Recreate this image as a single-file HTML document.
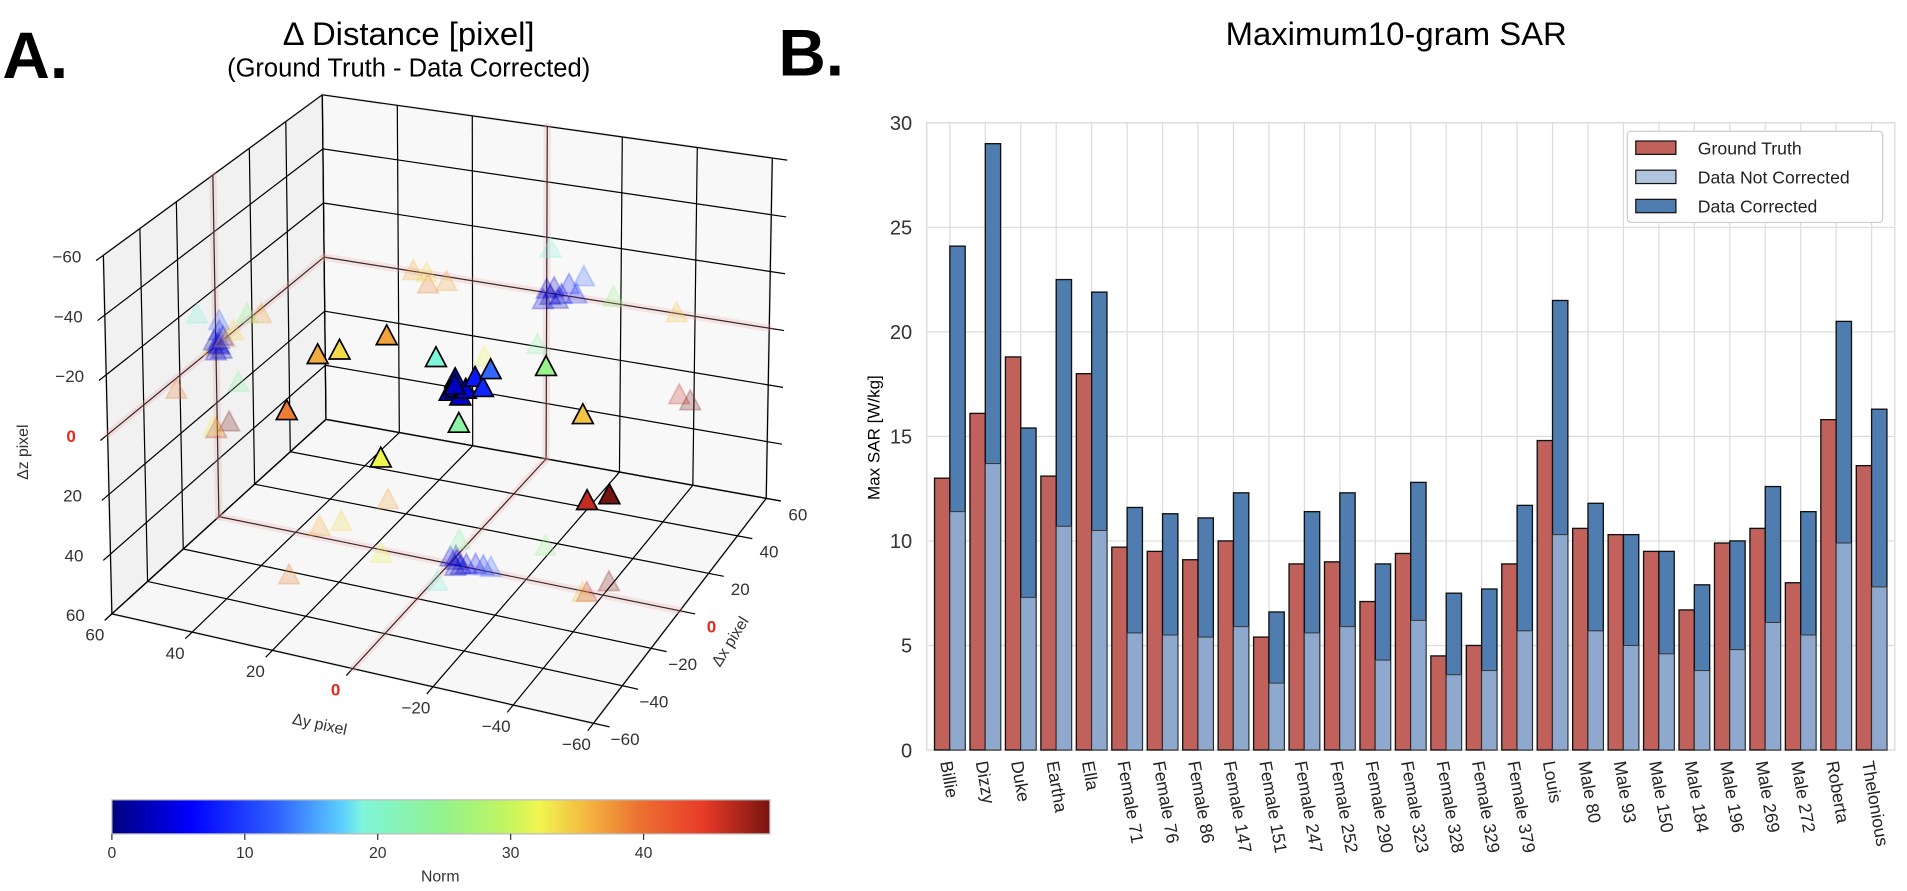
<!DOCTYPE html>
<html><head><meta charset="utf-8">
<style>
html,body{margin:0;padding:0;background:#fff;}
svg{display:block;font-family:"Liberation Sans",sans-serif;}
</style></head>
<body>
<svg id="root" width="1907" height="891" viewBox="0 0 1568 733" preserveAspectRatio="none" xmlns="http://www.w3.org/2000/svg">
<g id="panelA">
<text x="2" y="64" font-size="54" font-weight="bold">A.</text>
<text x="336" y="37" font-size="27" text-anchor="middle">Δ Distance [pixel]</text>
<text x="336" y="63" font-size="21" text-anchor="middle">(Ground Truth - Data Corrected)</text>
<g id="box"></g>
<g id="shadows"></g>
<g id="points"></g>
<g id="labels3d"></g>
<defs>
<linearGradient id="jet" x1="0" x2="1" y1="0" y2="0"></linearGradient>
</defs>
<rect x="92" y="658" width="541" height="28" fill="url(#jet)" stroke="#bbb" stroke-width="1"/>
<g id="cbticks"></g>
<text x="362" y="725" font-size="13" fill="#333" text-anchor="middle">Norm</text>
</g>
<g id="panelB">
<text x="640" y="62" font-size="54" font-weight="bold">B.</text>
<text x="1148" y="37" font-size="27" text-anchor="middle">Maximum10-gram SAR</text>
<text transform="translate(723,360) rotate(-90)" font-size="14" text-anchor="middle">Max SAR [W/kg]</text>
<g id="grid"></g>
<g id="bars"></g>
<g id="xlabels"></g>
<g id="legend">
<rect x="1338" y="108" width="210" height="75" rx="3" fill="#fff" stroke="#ccc"/>
<rect x="1345" y="116" width="33" height="11" fill="#c0615c" stroke="#111"/>
<text x="1396" y="127" font-size="14.5" fill="#222">Ground Truth</text>
<rect x="1345" y="140" width="33" height="11" fill="#b0c4de" stroke="#111"/>
<text x="1396" y="151" font-size="14.5" fill="#222">Data Not Corrected</text>
<rect x="1345" y="164" width="33" height="11" fill="#4f7db0" stroke="#111"/>
<text x="1396" y="175" font-size="14.5" fill="#222">Data Corrected</text>
</g>
</g>
</svg>
<script>
// ---------- Bar chart data ----------
const categories=["Billie","Dizzy","Duke","Eartha","Ella","Female 71","Female 76","Female 86","Female 147","Female 151","Female 247","Female 252","Female 290","Female 323","Female 328","Female 329","Female 379","Louis","Male 80","Male 93","Male 150","Male 184","Male 196","Male 269","Male 272","Roberta","Thelonious"];
const groundTruth=[13.0,16.1,18.8,13.1,18.0,9.7,9.5,9.1,10.0,5.4,8.9,9.0,7.1,9.4,4.5,5.0,8.9,14.8,10.6,10.3,9.5,6.7,9.9,10.6,8.0,15.8,13.6];
const dataCorrected=[24.1,29.0,15.4,22.5,21.9,11.6,11.3,11.1,12.3,6.6,11.4,12.3,8.9,12.8,7.5,7.7,11.7,21.5,11.8,10.3,9.5,7.9,10.0,12.6,11.4,20.5,16.3];
const dataNotCorrected=[11.4,13.7,7.3,10.7,10.5,5.6,5.5,5.4,5.9,3.2,5.6,5.9,4.3,6.2,3.6,3.8,5.7,10.3,5.7,5.0,4.6,3.8,4.8,6.1,5.5,9.9,7.8];
const yTicks=[0,5,10,15,20,25,30];

// ---------- 3D scatter data (Δx, Δy, Δz) ----------
const dX=[-0.6,6.5,-1,17.4,2,0,4,1,3,-1,2,2,2,-10,12,-2,-22,25,5,9.6];
const dY=[-36,-39,-35,-18,-1,-3,0,-4,1,-2,-6,-8,-10,-1,2.5,16.8,32,27,36,32.4];
const dZ=[29,30.5,0,-2,1,2,-1,0,3,-2,-4,-1,-7.6,-16,19.5,27.2,4,2,0,0];
const axisTicks=[-60,-40,-20,0,20,40,60];
const cbTicks=[0,10,20,30,40];

const NS="http://www.w3.org/2000/svg";
function mk(tag,attrs,parent){const e=document.createElementNS(NS,tag);for(const k in attrs)e.setAttribute(k,attrs[k]);parent.appendChild(e);return e;}

// ---------- Bar chart ----------
const PL=762,PR=1558,PT=101,PB=617,YMAX=30;
const x0=781,dx=29.15,bw=12.6;
const xS=i=>x0+i*dx;
const yS=v=>PB-(v/YMAX)*(PB-PT);
const grid=document.getElementById('grid');
const bg=mk('rect',{x:PL,y:PT,width:PR-PL,height:PB-PT,fill:'#fff',stroke:'#d8d8d8'},grid);


yTicks.forEach(t=>{
  const l=mk('line',{x1:PL,x2:PR,y1:yS(t),y2:yS(t),stroke:'#dcdcdc','stroke-width':1},grid);
  
  
  const tx=mk('text',{x:PL-12,y:yS(t)+6,'font-size':16.5,'text-anchor':'end',fill:'#333'},grid);
  tx.textContent=t;
  
  
});
categories.forEach((c,i)=>{
  const l=mk('line',{x1:xS(i),x2:xS(i),y1:PT,y2:PB,stroke:'#dcdcdc','stroke-width':1},grid);
  
  
});
const bars=document.getElementById('bars');
categories.forEach((c,i)=>{
  const cx=xS(i);
  const r=mk('rect',{x:cx-bw,y:yS(groundTruth[i]),width:bw,height:PB-yS(groundTruth[i]),fill:'#c0615c',stroke:'#111','stroke-width':1.1},bars);
  
  
  const b=mk('rect',{x:cx,y:yS(dataCorrected[i]),width:bw,height:PB-yS(dataCorrected[i]),fill:'#4f7db0',stroke:'#111','stroke-width':1.1},bars);
  
  
  const n=mk('rect',{x:cx,y:yS(dataNotCorrected[i]),width:bw,height:PB-yS(dataNotCorrected[i]),fill:'#8ea9cd',stroke:'#333','stroke-width':0.8},bars);
  
  
});
const xl=document.getElementById('xlabels');
categories.forEach((c,i)=>{
  const t=mk('text',{transform:`translate(${xS(i)-8},627) rotate(80)`,'font-size':14.5,fill:'#222'},xl);
  t.textContent=c;
  
  
});

// ---------- Colormap ----------
const stops=[[0,'#00007f'],[0.12,'#0000ff'],[0.25,'#2f60ff'],[0.35,'#5ccfff'],[0.38,'#7ff5dc'],[0.5,'#92f28e'],[0.6,'#c2f560'],[0.65,'#f0f550'],[0.72,'#f4b840'],[0.8,'#ec7232'],[0.9,'#e83a28'],[1,'#781410']];
const grad=document.getElementById('jet');
stops.forEach(s=>{mk('stop',{offset:s[0],'stop-color':s[1]},grad);});
function hex2(h){return [parseInt(h.substr(1,2),16),parseInt(h.substr(3,2),16),parseInt(h.substr(5,2),16)];}
function cmap(t){t=Math.max(0,Math.min(1,t));for(let k=1;k<stops.length;k++){if(t<=stops[k][0]){const a=stops[k-1],b=stops[k];const f=(t-a[0])/(b[0]-a[0]);const ca=hex2(a[1]),cb=hex2(b[1]);return `rgb(${ca.map((v,j)=>Math.round(v+(cb[j]-v)*f)).join(',')})`;}}return stops[stops.length-1][1];}
const cbt=document.getElementById('cbticks');
cbTicks.forEach(t=>{
  const x=92+t/49.5*541;
  mk('line',{x1:x,x2:x,y1:686,y2:691,stroke:'#333'},cbt);
  const tx=mk('text',{x:x,y:706,'font-size':13,fill:'#333','text-anchor':'middle'},cbt);
  tx.textContent=t;
  
  
});

// ---------- 3D projection ----------
const O=[268,345],L=[92,505],F=[488,595],R=[630,410];
const TO=[265,78],TL=[85,210],TR=[635,130],TF=[488,285];
function bil(a,b,c,d,u,v){return [(1-u)*(1-v)*a[0]+u*(1-v)*b[0]+u*v*c[0]+(1-u)*v*d[0],(1-u)*(1-v)*a[1]+u*(1-v)*b[1]+u*v*c[1]+(1-u)*v*d[1]];}
function proj(x,y,z){const u=(60-x)/120,v=(60-y)/120,w=(60-z)/120;const p=bil(O,L,F,R,u,v),q=bil(TO,TL,TF,TR,u,v);return [p[0]+(q[0]-p[0])*w,p[1]+(q[1]-p[1])*w];}
function poly(pts){return pts.map(p=>p.join(',')).join(' ');}
const box=document.getElementById('box');
const floor=mk('polygon',{points:poly([proj(60,60,60),proj(-60,60,60),proj(-60,-60,60),proj(60,-60,60)]),fill:'#f7f7f7',stroke:'#e2e2e2','stroke-width':2},box);


const lw=mk('polygon',{points:poly([proj(60,60,60),proj(-60,60,60),proj(-60,60,-60),proj(60,60,-60)]),fill:'#f1f1f1',stroke:'#e2e2e2','stroke-width':2},box);


const bw2=mk('polygon',{points:poly([proj(60,60,60),proj(60,-60,60),proj(60,-60,-60),proj(60,60,-60)]),fill:'#f8f8f8',stroke:'#e2e2e2','stroke-width':2},box);


function ln(a,b,attrs,name){const l=mk('line',Object.assign({x1:a[0],y1:a[1],x2:b[0],y2:b[1]},attrs),box);return l;}
const G={stroke:'#000','stroke-width':1};
const P={stroke:'rgba(235,160,160,0.25)','stroke-width':6,'stroke-linecap':'round'};
axisTicks.forEach(t=>{
  ln(proj(t,60,60),proj(t,-64,60),G,'floor-gridline');
  ln(proj(60,t,60),proj(-64,t,60),G,'floor-gridline');
  ln(proj(t,60,60),proj(t,60,-60),G,'left-wall-gridline');
  ln(proj(60,60,t),proj(-64,60,t),G,'left-wall-gridline');
  ln(proj(60,t,60),proj(60,t,-60),G,'back-wall-gridline');
  ln(proj(60,60,t),proj(60,-64,t),G,'back-wall-gridline');
});
ln(proj(0,60,60),proj(0,-60,60),P,'floor-zero-line');
ln(proj(60,0,60),proj(-60,0,60),P,'floor-zero-line');
ln(proj(0,60,60),proj(0,60,-60),P,'left-wall-zero-line');
ln(proj(60,60,0),proj(-60,60,0),P,'left-wall-zero-line');
ln(proj(60,0,60),proj(60,0,-60),P,'back-wall-zero-line');
ln(proj(60,60,0),proj(60,-60,0),P,'back-wall-zero-line');

function tri(g,c,fill,op,stroke,name){const s=9;const t=mk('polygon',{points:poly([[c[0],c[1]-s*1.05],[c[0]-s*0.95,c[1]+s*0.75],[c[0]+s*0.95,c[1]+s*0.75]]),fill:fill,'fill-opacity':op,stroke:stroke,'stroke-opacity':stroke==='#000'?1:op,'stroke-width':1.4},g);}
const sh=document.getElementById('shadows'),pg=document.getElementById('points');
const norms=dX.map((x,i)=>Math.sqrt(x*x+dY[i]*dY[i]+dZ[i]*dZ[i]));
dX.forEach((x,i)=>{
  const col=cmap(norms[i]/49.5);
  tri(sh,proj(x,dY[i],60),col,0.25,col,'floor-shadow-marker');
  tri(sh,proj(x,60,dZ[i]),col,0.25,col,'left-wall-shadow-marker');
  tri(sh,proj(60,dY[i],dZ[i]),col,0.25,col,'back-wall-shadow-marker');
});
const order=dX.map((x,i)=>i).sort((a,b)=>((60-dX[a])+(60-dY[a]))-((60-dX[b])+(60-dY[b])));
order.forEach(i=>{tri(pg,proj(dX[i],dY[i],dZ[i]),cmap(norms[i]/49.5),1,'#000','point-marker');});

const lb=document.getElementById('labels3d');
function lab(p,txt,red,name,extra){const t=mk('text',Object.assign({x:p[0],y:p[1],'font-size':14,'text-anchor':'middle',fill:red?'#e8261c':'#333','font-weight':red?'bold':'normal'},extra||{}),lb);t.textContent=txt;}
const fmt=t=>t<0?'\u2212'+(-t):''+t;
axisTicks.forEach(t=>{
  const pz=proj(-60,60,t);lab([pz[0]-30,pz[1]+6],fmt(t),t===0,'z-tick-label');
  const py=proj(-60,t,60);lab([py[0]-14,py[1]+22],fmt(t),t===0,'y-tick-label');
  const px=proj(t,-60,60);lab([px[0]+26,px[1]+18],fmt(t),t===0,'x-tick-label');
});
lab([0,0],'Δz pixel',false,'z-axis-title',{transform:'translate(23,372) rotate(-90)','font-size':13,x:0,y:0});
lab([0,0],'Δy pixel',false,'y-axis-title',{transform:'translate(262,600) rotate(12)','font-size':13,x:0,y:0});
lab([0,0],'Δx pixel',false,'x-axis-title',{transform:'translate(604,530) rotate(-58)','font-size':13,x:0,y:0});
</script>
</body></html>
